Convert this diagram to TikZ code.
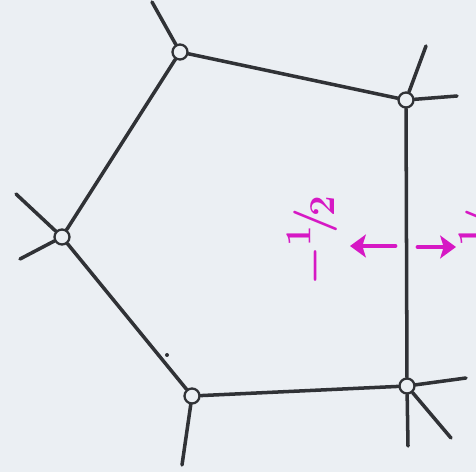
\documentclass[tikz,border=0pt]{standalone}
\usetikzlibrary{arrows.meta}
\definecolor{fondo}{RGB}{235,239,243}
\definecolor{tinta}{RGB}{48,50,54}
\definecolor{fucsia}{RGB}{214,24,196}
\begin{document}
\begin{tikzpicture}[x=0.02cm, y=-0.02cm,
	vert/.style={circle, draw=tinta, line width=1.3pt, minimum size=0.3cm, inner sep=0pt, fill=fondo},
	arista/.style={draw=tinta, line width=2pt, line cap=round},
	flecha/.style={draw=fucsia, line width=2.8pt, line cap=round, -{Stealth[length=9pt, width=13pt, inset=2pt]}},
	etiq/.style={text=fucsia, rotate=90, font=\Huge\boldmath, inner sep=0pt}]

\fill[fondo] (0,0) rectangle (476,472);
\clip (0,0) rectangle (476,472);

% Vertices
\node[vert] (A) at (180,52) {};
\node[vert] (B) at (406,100) {};
\node[vert] (C) at (407,386) {};
\node[vert] (D) at (192,396) {};
\node[vert] (E) at (62,237) {};

% Lados del pentagono
\foreach \p/\q in {A/B, B/C, C/D, D/E, E/A}
	\draw[arista] (\p) -- (\q);

% Patas
\coordinate (a1) at (152,2);
\coordinate (b1) at (426,46);
\coordinate (b2) at (457,96);
\coordinate (c1) at (466,378);
\coordinate (c2) at (451,438);
\coordinate (c3) at (408,446);
\coordinate (d1) at (182,465);
\coordinate (e1) at (16,194);
\coordinate (e2) at (20,259);
\foreach \v/\c in {A/a1, B/b1, B/b2, C/c1, C/c2, C/c3, D/d1, E/e1, E/e2}
	\draw[arista] (\v) -- (\c);

\fill[tinta] (167,355) circle (2);

% Etiquetas
\node[etiq] (izq) at (312,240) {$-{}^{1}\!/\!{}_{2}$};
\node[etiq] (der) at (484,240) {$-{}^{1}\!/\!{}_{2}$};

\coordinate (m1) at (395,246);
\coordinate (m2) at (350,246);
\coordinate (m3) at (418,247);
\coordinate (m4) at (456,247);
\draw[flecha] (m1) -- (m2);
\draw[flecha] (m3) -- (m4);
\end{tikzpicture}
\end{document}
